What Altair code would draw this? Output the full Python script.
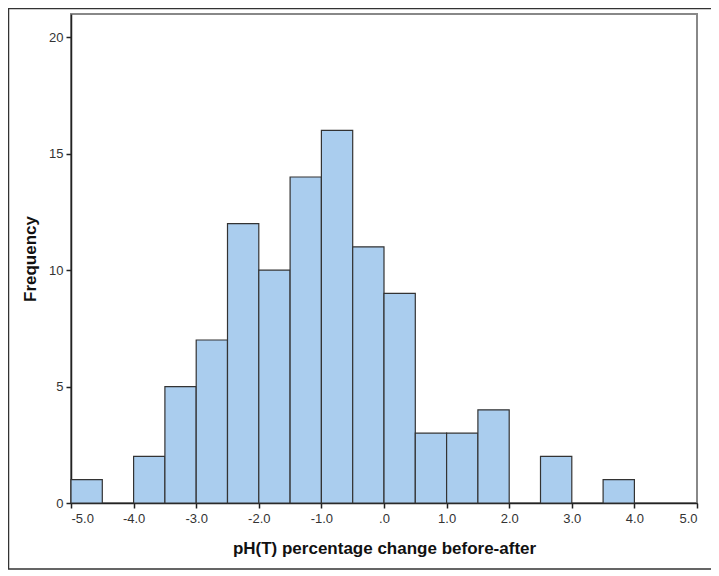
import altair as alt
import pandas as pd

bin_start = [-5.0, -4.5, -4.0, -3.5, -3.0, -2.5, -2.0, -1.5, -1.0, -0.5, 0.0, 0.5, 1.0, 1.5, 2.0, 2.5, 3.0, 3.5]
counts = [1, 0, 2, 5, 7, 12, 10, 14, 16, 11, 9, 3, 3, 4, 0, 2, 0, 1]
bin_width = 0.5
x_ticks = [-5.0, -4.0, -3.0, -2.0, -1.0, 0.0, 1.0, 2.0, 3.0, 4.0, 5.0]
y_ticks = [0, 5, 10, 15, 20]

df = pd.DataFrame({
    "start": bin_start,
    "end": [s + bin_width for s in bin_start],
    "count": counts,
})
df = df[df["count"] > 0]

W, H = 626, 489

bars = alt.Chart(df).mark_rect(
    fill="#aacdee", stroke="#333333", strokeWidth=1.2
).encode(
    x=alt.X("start:Q",
            scale=alt.Scale(domain=[-5, 5], nice=False, zero=False),
            axis=alt.Axis(values=x_ticks,
                          labelExpr="datum.value == 0 ? '.0' : replace(format(datum.value, '.1f'), '\u2212', '-')",
                          title="pH(T) percentage change before-after",
                          grid=False, tickSize=5, labelPadding=4,
                          titlePadding=15)),
    x2="end:Q",
    y=alt.Y("count:Q",
            scale=alt.Scale(domain=[0, 21.0], nice=False),
            axis=alt.Axis(values=y_ticks, title="Frequency", grid=False,
                          tickSize=5, labelPadding=3, titlePadding=9)),
    y2=alt.datum(0),
)

frame = alt.Chart(pd.DataFrame({"a": [0]})).mark_rect(
    fill=None, stroke="#333333", strokeWidth=1.5
).encode(
    x=alt.value(-62.5), x2=alt.value(642),
    y=alt.value(-5.5), y2=alt.value(H + 66),
)

chart = alt.layer(bars, frame).properties(
    width=W, height=H,
    autosize=alt.AutoSizeParams(type="none"),
    padding={"left": 63, "top": 6, "right": 14, "bottom": 70},
).configure_view(
    stroke="#888888", strokeWidth=2
).configure_axis(
    domainColor="#222222", domainWidth=1.5,
    tickColor="#222222", tickWidth=1.5,
    labelFont="Liberation Sans", labelFontSize=13, labelColor="#333333",
    titleFont="Liberation Sans", titleFontSize=17, titleFontWeight="bold",
    titleColor="#111111",
)

chart.save("out.html", embed_options={"renderer": "svg", "actions": False})
